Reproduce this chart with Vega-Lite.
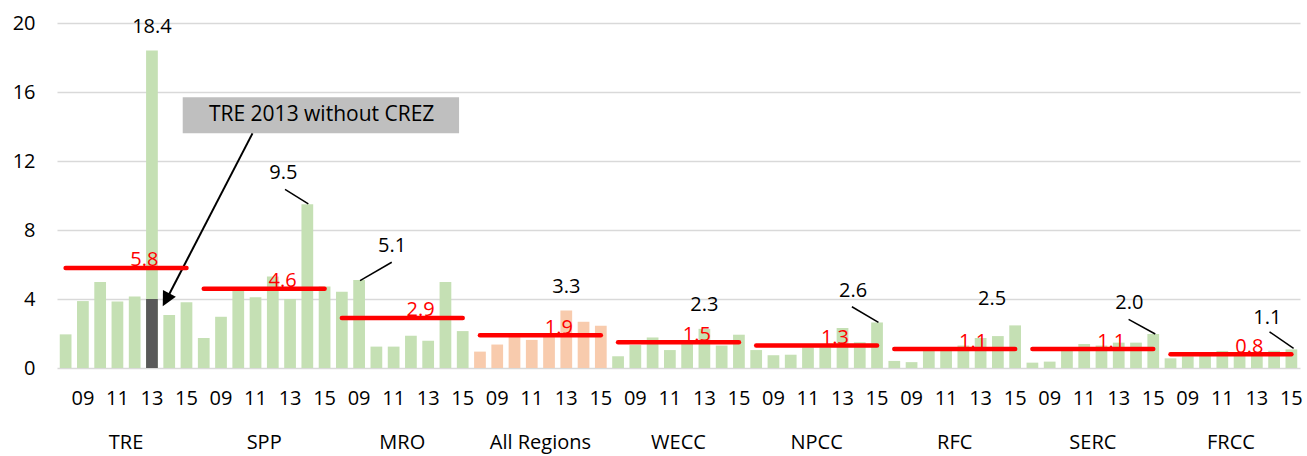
{
  "$schema": "https://vega.github.io/schema/vega-lite/v6.json",
  "width": 1243,
  "height": 345,
  "autosize": {"type": "none"},
  "padding": {"left": 57, "top": 23, "right": 7, "bottom": 88},
  "config": {
    "font": "Open Sans",
    "view": {"stroke": null},
    "axis": {"labelColor": "#000000", "labelFont": "Open Sans", "domain": false, "ticks": false, "titleColor": "#000000"},
    "text": {"font": "Open Sans"}
  },
  "datasets": {
    "bars": [
      {"region": "TRE", "key": "TRE|08", "value": 1.95},
      {"region": "TRE", "key": "TRE|09", "value": 3.88},
      {"region": "TRE", "key": "TRE|10", "value": 4.98},
      {"region": "TRE", "key": "TRE|11", "value": 3.85},
      {"region": "TRE", "key": "TRE|12", "value": 4.15},
      {"region": "TRE", "key": "TRE|13", "value": 18.4},
      {"region": "TRE", "key": "TRE|14", "value": 3.07},
      {"region": "TRE", "key": "TRE|15", "value": 3.81},
      {"region": "SPP", "key": "SPP|08", "value": 1.74},
      {"region": "SPP", "key": "SPP|09", "value": 2.97},
      {"region": "SPP", "key": "SPP|10", "value": 4.48},
      {"region": "SPP", "key": "SPP|11", "value": 4.1},
      {"region": "SPP", "key": "SPP|12", "value": 5.3},
      {"region": "SPP", "key": "SPP|13", "value": 4.0},
      {"region": "SPP", "key": "SPP|14", "value": 9.5},
      {"region": "SPP", "key": "SPP|15", "value": 4.72},
      {"region": "MRO", "key": "MRO|08", "value": 4.42},
      {"region": "MRO", "key": "MRO|09", "value": 5.1},
      {"region": "MRO", "key": "MRO|10", "value": 1.24},
      {"region": "MRO", "key": "MRO|11", "value": 1.24},
      {"region": "MRO", "key": "MRO|12", "value": 1.87},
      {"region": "MRO", "key": "MRO|13", "value": 1.58},
      {"region": "MRO", "key": "MRO|14", "value": 4.98},
      {"region": "MRO", "key": "MRO|15", "value": 2.14},
      {"region": "All Regions", "key": "All Regions|08", "value": 0.95},
      {"region": "All Regions", "key": "All Regions|09", "value": 1.36},
      {"region": "All Regions", "key": "All Regions|10", "value": 1.81},
      {"region": "All Regions", "key": "All Regions|11", "value": 1.63},
      {"region": "All Regions", "key": "All Regions|12", "value": 1.95},
      {"region": "All Regions", "key": "All Regions|13", "value": 3.33},
      {"region": "All Regions", "key": "All Regions|14", "value": 2.68},
      {"region": "All Regions", "key": "All Regions|15", "value": 2.45},
      {"region": "WECC", "key": "WECC|08", "value": 0.68},
      {"region": "WECC", "key": "WECC|09", "value": 1.33},
      {"region": "WECC", "key": "WECC|10", "value": 1.77},
      {"region": "WECC", "key": "WECC|11", "value": 1.04},
      {"region": "WECC", "key": "WECC|12", "value": 1.5},
      {"region": "WECC", "key": "WECC|13", "value": 2.27},
      {"region": "WECC", "key": "WECC|14", "value": 1.3},
      {"region": "WECC", "key": "WECC|15", "value": 1.93},
      {"region": "NPCC", "key": "NPCC|08", "value": 1.04},
      {"region": "NPCC", "key": "NPCC|09", "value": 0.74},
      {"region": "NPCC", "key": "NPCC|10", "value": 0.77},
      {"region": "NPCC", "key": "NPCC|11", "value": 1.2},
      {"region": "NPCC", "key": "NPCC|12", "value": 1.2},
      {"region": "NPCC", "key": "NPCC|13", "value": 2.32},
      {"region": "NPCC", "key": "NPCC|14", "value": 1.49},
      {"region": "NPCC", "key": "NPCC|15", "value": 2.64},
      {"region": "RFC", "key": "RFC|08", "value": 0.41},
      {"region": "RFC", "key": "RFC|09", "value": 0.34},
      {"region": "RFC", "key": "RFC|10", "value": 1.0},
      {"region": "RFC", "key": "RFC|11", "value": 1.0},
      {"region": "RFC", "key": "RFC|12", "value": 1.3},
      {"region": "RFC", "key": "RFC|13", "value": 1.74},
      {"region": "RFC", "key": "RFC|14", "value": 1.85},
      {"region": "RFC", "key": "RFC|15", "value": 2.47},
      {"region": "SERC", "key": "SERC|08", "value": 0.31},
      {"region": "SERC", "key": "SERC|09", "value": 0.37},
      {"region": "SERC", "key": "SERC|10", "value": 1.0},
      {"region": "SERC", "key": "SERC|11", "value": 1.39},
      {"region": "SERC", "key": "SERC|12", "value": 1.3},
      {"region": "SERC", "key": "SERC|13", "value": 1.47},
      {"region": "SERC", "key": "SERC|14", "value": 1.47},
      {"region": "SERC", "key": "SERC|15", "value": 1.97},
      {"region": "FRCC", "key": "FRCC|08", "value": 0.56},
      {"region": "FRCC", "key": "FRCC|09", "value": 0.68},
      {"region": "FRCC", "key": "FRCC|10", "value": 0.7},
      {"region": "FRCC", "key": "FRCC|11", "value": 0.99},
      {"region": "FRCC", "key": "FRCC|12", "value": 0.8},
      {"region": "FRCC", "key": "FRCC|13", "value": 0.82},
      {"region": "FRCC", "key": "FRCC|14", "value": 1.0},
      {"region": "FRCC", "key": "FRCC|15", "value": 1.08}
    ],
    "crez": [{"key": "TRE|13", "value": 4.0}],
    "avg": [
      {"region": "TRE", "avg": 5.8, "label": "5.8"},
      {"region": "SPP", "avg": 4.6, "label": "4.6"},
      {"region": "MRO", "avg": 2.9, "label": "2.9"},
      {"region": "All Regions", "avg": 1.9, "label": "1.9"},
      {"region": "WECC", "avg": 1.5, "label": "1.5"},
      {"region": "NPCC", "avg": 1.3, "label": "1.3"},
      {"region": "RFC", "avg": 1.1, "label": "1.1"},
      {"region": "SERC", "avg": 1.1, "label": "1.1"},
      {"region": "FRCC", "avg": 0.8, "label": "0.8"}
    ],
    "note": [{"note": "TRE 2013 without CREZ"}],
    "one": [{}]
  },
  "layer": [
    {
      "data": {"name": "bars"},
      "layer": [
        {
          "mark": {"type": "bar"},
          "encoding": {
            "x": {
              "field": "key", "type": "nominal", "sort": null, "title": null,
              "scale": {
                "type": "band", "paddingInner": 0.32, "paddingOuter": 0.16,
                "domain": ["TRE|08","TRE|09","TRE|10","TRE|11","TRE|12","TRE|13","TRE|14","TRE|15",
                           "SPP|08","SPP|09","SPP|10","SPP|11","SPP|12","SPP|13","SPP|14","SPP|15",
                           "MRO|08","MRO|09","MRO|10","MRO|11","MRO|12","MRO|13","MRO|14","MRO|15",
                           "All Regions|08","All Regions|09","All Regions|10","All Regions|11","All Regions|12","All Regions|13","All Regions|14","All Regions|15",
                           "WECC|08","WECC|09","WECC|10","WECC|11","WECC|12","WECC|13","WECC|14","WECC|15",
                           "NPCC|08","NPCC|09","NPCC|10","NPCC|11","NPCC|12","NPCC|13","NPCC|14","NPCC|15",
                           "RFC|08","RFC|09","RFC|10","RFC|11","RFC|12","RFC|13","RFC|14","RFC|15",
                           "SERC|08","SERC|09","SERC|10","SERC|11","SERC|12","SERC|13","SERC|14","SERC|15",
                           "FRCC|08","FRCC|09","FRCC|10","FRCC|11","FRCC|12","FRCC|13","FRCC|14","FRCC|15"]
              },
              "axis": {
                "orient": "bottom", "labelAngle": 0, "labelOverlap": false, "labelBound": false, "labelFlush": false,
                "labelFontSize": 20, "labelPadding": 20, "grid": false,
                "labelExpr": "indexof(['09','11','13','15'], slice(datum.value, -2)) >= 0 ? slice(datum.value, -2) : ''"
              }
            },
            "y": {
              "field": "value", "type": "quantitative", "title": null,
              "scale": {"domain": [0, 20], "nice": false},
              "axis": {"values": [0, 4, 8, 12, 16, 20], "grid": true, "gridColor": "#d9d9d9", "gridWidth": 1.5, "labelFontSize": 20, "labelPadding": 22}
            },
            "color": {"condition": {"test": "datum.region === 'All Regions'", "value": "#f8cbad"}, "value": "#c5e0b4"}
          }
        },
        {
          "data": {"name": "crez"},
          "mark": {"type": "bar", "color": "#595959"},
          "encoding": {
            "x": {"field": "key", "type": "nominal", "scale": {"type": "band"}},
            "y": {"field": "value", "type": "quantitative"}
          }
        },
        {
          "data": {"name": "one"},
          "mark": {"type": "rule", "color": "#000000", "strokeWidth": 1.5},
          "encoding": {
            "x": {"datum": "SPP|14", "type": "nominal", "bandPosition": -1.40, "scale": {"type": "band"}},
            "x2": {"datum": "SPP|14", "bandPosition": 0.585},
            "y": {"datum": 10.36, "type": "quantitative"},
            "y2": {"datum": 9.51}
          }
        },
        {
          "data": {"name": "one"},
          "mark": {"type": "rule", "color": "#000000", "strokeWidth": 1.5},
          "encoding": {
            "x": {"datum": "MRO|09", "type": "nominal", "bandPosition": 0.58, "scale": {"type": "band"}},
            "x2": {"datum": "MRO|09", "bandPosition": 3.28},
            "y": {"datum": 5.06, "type": "quantitative"},
            "y2": {"datum": 6.13}
          }
        },
        {
          "data": {"name": "one"},
          "mark": {"type": "rule", "color": "#000000", "strokeWidth": 1.5},
          "encoding": {
            "x": {"datum": "NPCC|15", "type": "nominal", "bandPosition": -1.64, "scale": {"type": "band"}},
            "x2": {"datum": "NPCC|15", "bandPosition": 0.62},
            "y": {"datum": 3.55, "type": "quantitative"},
            "y2": {"datum": 2.65}
          }
        },
        {
          "data": {"name": "one"},
          "mark": {"type": "rule", "color": "#000000", "strokeWidth": 1.5},
          "encoding": {
            "x": {"datum": "SERC|15", "type": "nominal", "bandPosition": -1.60, "scale": {"type": "band"}},
            "x2": {"datum": "SERC|15", "bandPosition": 0.67},
            "y": {"datum": 2.82, "type": "quantitative"},
            "y2": {"datum": 1.97}
          }
        },
        {
          "data": {"name": "one"},
          "mark": {"type": "rule", "color": "#000000", "strokeWidth": 1.5},
          "encoding": {
            "x": {"datum": "FRCC|15", "type": "nominal", "bandPosition": -1.36, "scale": {"type": "band"}},
            "x2": {"datum": "FRCC|15", "bandPosition": 0.69},
            "y": {"datum": 2.10, "type": "quantitative"},
            "y2": {"datum": 1.14}
          }
        },
        {
          "transform": [{"filter": {"field": "key", "oneOf": ["TRE|13", "All Regions|13", "WECC|13"]}}],
          "mark": {"type": "text", "fontSize": 20, "color": "#000000", "baseline": "alphabetic", "align": "center", "dy": -18},
          "encoding": {
            "x": {"field": "key", "type": "nominal", "scale": {"type": "band"}},
            "y": {"field": "value", "type": "quantitative"},
            "text": {"field": "value", "type": "quantitative", "format": ".1f"}
          }
        },
        {
          "transform": [{"filter": {"field": "key", "oneOf": ["SPP|14", "NPCC|15", "SERC|15", "FRCC|15"]}}],
          "mark": {"type": "text", "fontSize": 20, "color": "#000000", "baseline": "alphabetic", "align": "center", "dx": -24, "dy": -25},
          "encoding": {
            "x": {"field": "key", "type": "nominal", "scale": {"type": "band"}},
            "y": {"field": "value", "type": "quantitative"},
            "text": {"field": "value", "type": "quantitative", "format": ".1f"}
          }
        },
        {
          "transform": [{"filter": {"field": "key", "oneOf": ["RFC|15"]}}],
          "mark": {"type": "text", "fontSize": 20, "color": "#000000", "baseline": "alphabetic", "align": "center", "dx": -23, "dy": -20},
          "encoding": {
            "x": {"field": "key", "type": "nominal", "scale": {"type": "band"}},
            "y": {"field": "value", "type": "quantitative"},
            "text": {"field": "value", "type": "quantitative", "format": ".1f"}
          }
        },
        {
          "transform": [{"filter": {"field": "key", "oneOf": ["MRO|09"]}}],
          "mark": {"type": "text", "fontSize": 20, "color": "#000000", "baseline": "alphabetic", "align": "center", "dx": 33, "dy": -28},
          "encoding": {
            "x": {"field": "key", "type": "nominal", "scale": {"type": "band"}},
            "y": {"field": "value", "type": "quantitative"},
            "text": {"field": "value", "type": "quantitative", "format": ".1f"}
          }
        },
        {
          "data": {"name": "note"},
          "mark": {"type": "rect", "color": "#bfbfbf"},
          "encoding": {
            "x": {"datum": "TRE|15", "type": "nominal", "bandPosition": 0.18, "scale": {"type": "band"}},
            "x2": {"datum": "MRO|15", "bandPosition": 0.19},
            "y": {"datum": 15.69, "type": "quantitative"},
            "y2": {"datum": 13.61}
          }
        },
        {
          "data": {"name": "note"},
          "mark": {"type": "text", "fontSize": 21, "color": "#000000", "baseline": "middle", "align": "center"},
          "encoding": {
            "x": {"datum": "SPP|15", "type": "nominal", "bandPosition": 0.25, "scale": {"type": "band"}},
            "y": {"datum": 14.67, "type": "quantitative"},
            "text": {"field": "note", "type": "nominal"}
          }
        },
        {
          "data": {"name": "one"},
          "mark": {"type": "rule", "color": "#000000", "strokeWidth": 2},
          "encoding": {
            "x": {"datum": "SPP|11", "type": "nominal", "bandPosition": 0.24, "scale": {"type": "band"}},
            "x2": {"datum": "TRE|14", "bandPosition": 0.31},
            "y": {"datum": 13.6, "type": "quantitative"},
            "y2": {"datum": 4.03}
          }
        },
        {
          "data": {"name": "one"},
          "mark": {"type": "point", "shape": "M0,0L-1,-2L1,-2Z", "filled": true, "opacity": 1, "color": "#000000", "size": 210, "angle": 27.3},
          "encoding": {
            "x": {"datum": "TRE|13", "type": "nominal", "bandPosition": 1.42, "scale": {"type": "band"}},
            "y": {"datum": 3.58, "type": "quantitative"}
          }
        }
      ]
    },
    {
      "data": {"name": "avg"},
      "layer": [
        {
          "mark": {"type": "rule", "color": "#ff0000", "strokeWidth": 4.5, "strokeCap": "round"},
          "encoding": {
            "x": {
              "field": "region", "type": "nominal", "sort": null, "bandPosition": 0.0625, "title": null,
              "scale": {"type": "band", "paddingInner": 0, "paddingOuter": 0,
                        "domain": ["TRE", "SPP", "MRO", "All Regions", "WECC", "NPCC", "RFC", "SERC", "FRCC"]},
              "axis": {"orient": "bottom", "offset": 50, "labelPadding": 14, "labelAngle": 0, "labelFontSize": 20, "grid": false, "labelOverlap": false}
            },
            "x2": {"field": "region", "bandPosition": 0.9375},
            "y": {"field": "avg", "type": "quantitative"}
          }
        },
        {
          "mark": {"type": "text", "color": "#ff0000", "fontSize": 20, "baseline": "alphabetic", "align": "center", "dy": -1.5},
          "encoding": {
            "x": {"field": "region", "type": "nominal", "bandPosition": 0.633, "scale": {"type": "band"}},
            "y": {"field": "avg", "type": "quantitative"},
            "text": {"field": "label", "type": "nominal"}
          }
        }
      ]
    }
  ],
  "resolve": {"scale": {"x": "independent"}, "axis": {"x": "independent"}}
}
